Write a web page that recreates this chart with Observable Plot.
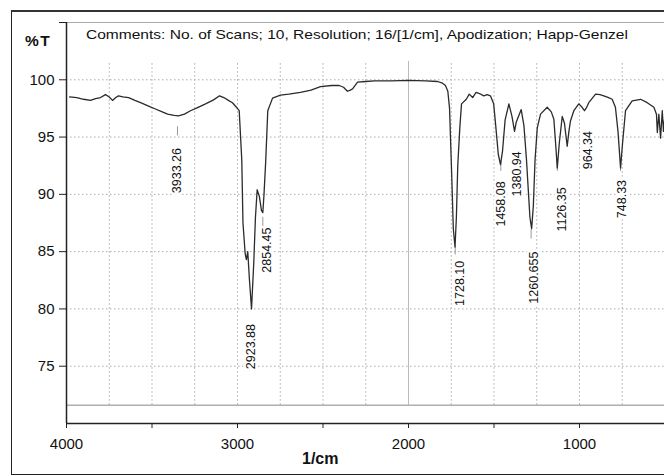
<!DOCTYPE html>
<html><head><meta charset="utf-8">
<script src="https://cdn.jsdelivr.net/npm/d3@7"></script>
<script src="https://cdn.jsdelivr.net/npm/@observablehq/plot@0.6"></script>
<style>
html,body{margin:0;padding:0;background:#fff;overflow:hidden;}
#wrap{position:relative;width:664px;height:476px;font-family:"Liberation Sans",Arial,sans-serif;color:#111;}
#frame{position:absolute;left:11px;top:10px;width:720px;height:462px;border:1.5px solid #222;border-top:2.5px solid #333;pointer-events:none;}
#chart{position:absolute;left:0;top:0;}
.lbl{position:absolute;line-height:1;white-space:nowrap;}
#title{left:86px;top:28px;font-size:13.5px;transform:scaleX(1.15);transform-origin:0 0;}
#ylab{left:25px;top:33px;font-size:15.5px;font-weight:bold;letter-spacing:1.5px;}
#xlab{left:302px;top:451px;font-size:16px;font-weight:bold;}
</style>
</head>
<body>
<div id="wrap">
  <div id="chart"></div>
  <div id="frame"></div>
  <div class="lbl" id="title">Comments: No. of Scans; 10, Resolution; 16/[1/cm], Apodization; Happ-Genzel</div>
  <div class="lbl" id="ylab">%T</div>
  <div class="lbl" id="xlab">1/cm</div>
</div>
<script>
// Spectrum (wavenumber in 1/cm, transmittance in %T)
const wavenumber = [
  3982,3940,3900,3860,3830,3801,3772,3750,3731,3712,3696,3670,3637,3600,3567,3520,3480,3440,3409,3370,
  3345,3310,3275,3230,3187,3140,3105,3080,3053,3030,3006,2990,2975,2968,2955,2948,2940,2930,2918,2905,
  2895,2885,2872,2860,2852,2845,2835,2823,2795,2749,2700,2632,2570,2515,2450,2405,2380,2357,2340,2327,
  2298,2250,2200,2100,2000,1900,1830,1801,1784,1770,1760,1748,1738,1728,1720,1712,1700,1690,1662,1645,
  1625,1605,1585,1560,1540,1521,1502,1490,1475,1462,1450,1435,1413,1395,1380,1370,1341,1325,1310,1300,
  1290,1280,1270,1260,1247,1228,1189,1165,1150,1140,1130,1118,1101,1088,1072,1062,1053,1033,1004,985,
  971,958,946,906,880,858,830,809,790,775,760,748,731,692,643,604,565,550,545,536,
  526,516,509,503
];
const transmittance = [
  98.5,98.45,98.3,98.2,98.35,98.45,98.7,98.5,98.2,98.45,98.6,98.5,98.45,98.2,98.0,97.7,97.45,97.2,97.0,96.9,
  96.85,97.0,97.3,97.6,97.9,98.25,98.6,98.45,98.2,98.0,97.6,97.3,93.0,87.5,84.8,84.3,85.0,82.5,80.0,84.0,
  88.0,90.4,89.8,88.6,88.4,90.0,92.9,97.3,98.4,98.66,98.75,98.9,99.1,99.4,99.5,99.5,99.35,99.0,99.1,99.2,
  99.8,99.85,99.9,99.9,99.95,99.9,99.85,99.7,99.5,99.0,97.5,92.0,87.0,85.4,88.0,92.5,95.8,97.9,98.3,98.75,
  98.45,98.9,98.8,98.6,98.7,98.6,97.9,96.0,93.5,92.6,93.8,96.5,97.9,96.8,95.5,96.3,97.4,96.0,93.0,90.5,
  88.0,87.0,89.0,93.0,95.8,97.0,97.6,97.2,96.55,94.5,92.3,94.5,96.8,96.2,94.2,95.5,96.4,97.3,97.9,97.6,
  97.3,97.6,98.0,98.75,98.7,98.6,98.45,98.3,97.6,95.5,92.3,94.5,97.3,98.15,98.3,98.0,97.6,97.0,95.4,97.0,
  94.9,97.3,95.5,96.5
];

// Peak labels
const peakLabels = ["3933.26","2923.88","2854.45","1728.10","1458.08","1380.94","1260.655","1126.35","964.34","748.33"];
const peakLabelWn = [3351,2920,2829,1698,1460,1363,1265,1105,953,749];
const peakLabelT  = [90.1,74.74,83.16,80.26,87.19,89.82,80.46,86.75,92.19,87.92];

// small peak marks
const peakMarkWn = [3351,2852,1727,1460,1283,1130,760];
const peakMarkT  = [95.9,88.0,85.5,92.8,86.9,92.8,92.8];

// Axes
const xTickValues = [4000,3500,3000,2500,2000,1500,1000];
const xTickLabels = ["4000","","3000","","2000","","1000"];
const yTickValues = [75,80,85,90,95,100,105];
const yTickLabels = ["75","80","85","90","95","100",""];
const xGrid = [3750,3500,3250,3000,2750,2500,2250,1750,1500,1250,1000,750];
const yGrid = [75,80,85,90,95,100];

const idx = d3.range(wavenumber.length);
const pidx = d3.range(peakLabels.length);
const midx = d3.range(peakMarkWn.length);

const chart = Plot.plot({
  width: 664,
  height: 476,
  marginLeft: 66,
  marginRight: 0,
  marginTop: 22,
  marginBottom: 53,
  style: {fontFamily: '"Liberation Sans", Arial, sans-serif', background: "white", color: "#111"},
  x: {domain: [4000, 503], axis: null},
  y: {domain: [70, 105], axis: null},
  marks: [
    Plot.ruleY(yGrid, {x1: 4000, x2: 503, stroke: "#aaa", strokeWidth: 1, strokeDasharray: "1.5,2.5"}),
    Plot.ruleX(xGrid, {y1: 71.6, y2: 101.6, stroke: "#aaa", strokeWidth: 1, strokeDasharray: "1.5,2.5"}),
    Plot.ruleX([2000], {y1: 71.6, y2: 101.6, stroke: "#bbb", strokeWidth: 1}),
    Plot.ruleY([71.6], {x1: 4000, x2: 503, stroke: "#888", strokeWidth: 1}),
    Plot.ruleY([105], {x1: 4000, x2: 503, stroke: "#aaa", strokeWidth: 1}),
    Plot.ruleX(midx, {x: i => peakMarkWn[i], y1: i => peakMarkT[i], y2: i => peakMarkT[i] - 0.8, stroke: "#999", strokeWidth: 1}),
    Plot.line(idx, {x: i => wavenumber[i], y: i => transmittance[i], stroke: "#2b2b2b", strokeWidth: 1.3, clip: true}),
    Plot.text(pidx, {x: i => peakLabelWn[i], y: i => peakLabelT[i], text: i => peakLabels[i], rotate: -90, textAnchor: "start", fontSize: 12.5, fill: "#111", stroke: "white", strokeWidth: 5}),
    Plot.ruleX([4000], {y1: 70, y2: 105, stroke: "#222", strokeWidth: 1.5}),
    Plot.ruleY([70], {x1: 4000, x2: 503, stroke: "#222", strokeWidth: 1.5}),
    Plot.axisX(xTickValues, {anchor: "bottom", tickSize: 5, tickPadding: 10, fontSize: 15, label: null, stroke: "#222", tickFormat: d => xTickLabels[xTickValues.indexOf(d)]}),
    Plot.axisY(yTickValues, {anchor: "left", tickSize: 7, tickPadding: 5, fontSize: 15, label: null, stroke: "#222", tickFormat: d => yTickLabels[yTickValues.indexOf(d)]})
  ]
});
document.getElementById("chart").appendChild(chart);
</script>
</body></html>
